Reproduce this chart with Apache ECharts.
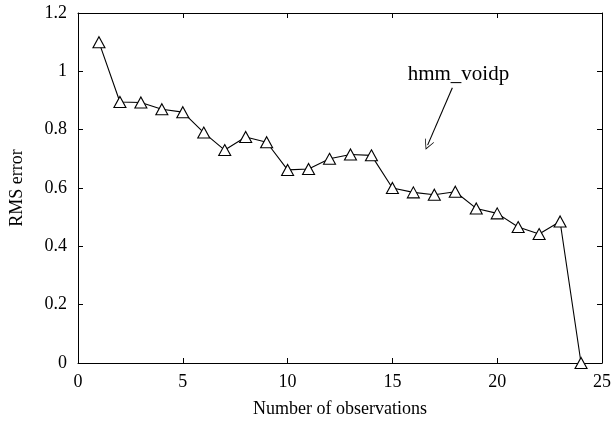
<!DOCTYPE html>
<html>
<head>
<meta charset="utf-8">
<script src="https://cdn.jsdelivr.net/npm/echarts@6/dist/echarts.min.js"></script>
<style>
  html, body { margin: 0; padding: 0; background: #fff; }
  #main { width: 614px; height: 423px; }
</style>
</head>
<body>
<div id="main"></div>
<script>
// data
var observations = [1, 2, 3, 4, 5, 6, 7, 8, 9, 10, 11, 12, 13, 14, 15, 16, 17, 18, 19, 20, 21, 22, 23, 24];
var rmsError = [1.10, 0.895, 0.893, 0.87, 0.86, 0.79, 0.73, 0.775, 0.757, 0.662, 0.665, 0.70, 0.715, 0.712,
    0.60, 0.585, 0.577, 0.587, 0.53, 0.513, 0.466, 0.442, 0.485, 0.0];
var seriesName = 'hmm_voidp';
var labelPos = [18.15, 0.99];
var arrowFrom = [17.86, 0.944];
var arrowTo = [16.68, 0.747];

var font = '"Liberation Serif", "DejaVu Serif", serif';

var chart = echarts.init(document.getElementById('main'));

var points = observations.map(function (x, i) { return [x, rmsError[i]]; });

function xAxisOf(pos, showLabel) {
    return {
        type: 'value', position: pos, min: 0, max: 25, interval: 5,
        name: showLabel ? 'Number of observations' : '',
        nameLocation: 'middle', nameGap: 37,
        nameTextStyle: { fontFamily: font, fontSize: 18, color: '#000' },
        axisLine: { show: true, onZero: false, lineStyle: { color: '#000', width: 1 } },
        axisTick: { show: true, inside: true, length: 5, lineStyle: { color: '#000' } },
        axisLabel: { show: showLabel, fontFamily: font, fontSize: 18, color: '#000', margin: 10 },
        splitLine: { show: false }
    };
}

function yAxisOf(pos, showLabel) {
    return {
        type: 'value', position: pos, min: 0, max: 1.2, interval: 0.2,
        name: showLabel ? 'RMS error' : '',
        nameLocation: 'middle', nameGap: 52,
        nameTextStyle: { fontFamily: font, fontSize: 18, color: '#000' },
        axisLine: { show: true, onZero: false, lineStyle: { color: '#000', width: 1 } },
        axisTick: { show: true, inside: true, length: 5, lineStyle: { color: '#000' } },
        axisLabel: { show: showLabel, fontFamily: font, fontSize: 18, color: '#000', margin: 11 },
        splitLine: { show: false }
    };
}

var option = {
    animation: false,
    backgroundColor: '#fff',
    grid: { left: 78, right: 7, top: 13, bottom: 58 },
    xAxis: [xAxisOf('bottom', true), xAxisOf('top', false)],
    yAxis: [yAxisOf('left', true), yAxisOf('right', false)],
    series: [{
        name: seriesName,
        type: 'line',
        data: points,
        clip: false,
        symbol: 'triangle',
        symbolSize: [12, 11],
        lineStyle: { color: '#000', width: 1.1 },
        itemStyle: { color: '#fff', borderColor: '#000', borderWidth: 1.1 },
        markPoint: {
            symbol: 'circle', symbolSize: 0,
            label: {
                show: true, formatter: seriesName, position: 'inside',
                fontFamily: font, fontSize: 21, color: '#000'
            },
            data: [{ coord: labelPos }]
        },
        markLine: {
            silent: true,
            symbol: ['none', 'path://M0,10 L5,0 L10,10 L9.2,10 L5,1.8 L0.8,10 Z'],
            symbolSize: [10, 10],
            label: { show: false },
            lineStyle: { color: '#000', width: 1.1, type: 'solid' },
            data: [[{ coord: arrowFrom }, { coord: arrowTo }]]
        }
    }]
};

chart.setOption(option);
</script>
</body>
</html>
